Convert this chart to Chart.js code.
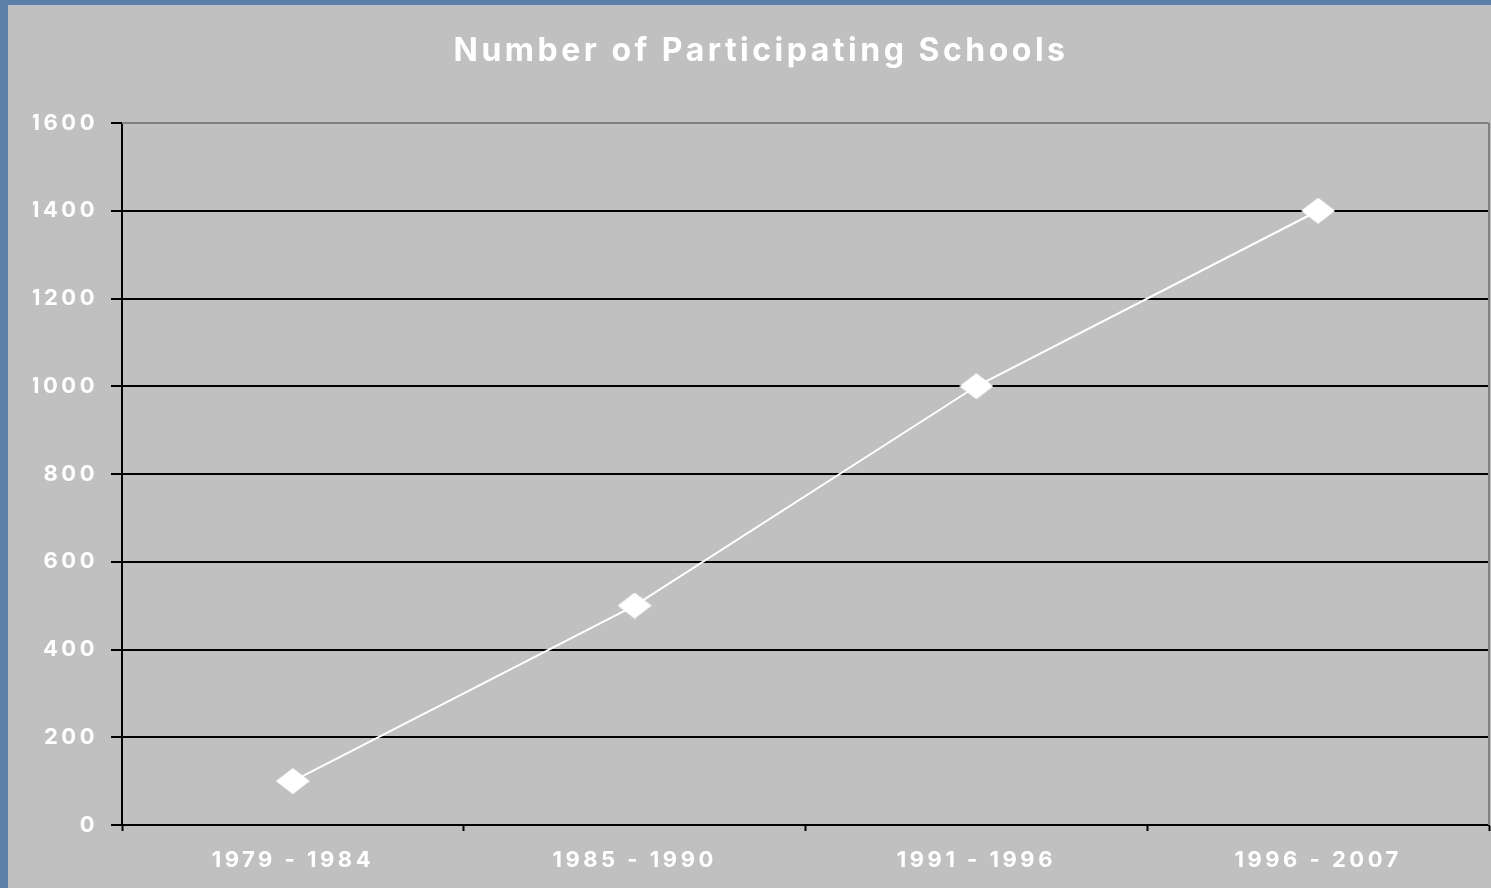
<!DOCTYPE html>
<html>
<head>
<meta charset="utf-8">
<script src="https://cdn.jsdelivr.net/npm/chart.js@4/dist/chart.umd.min.js"></script>
<style>
  html, body { margin: 0; padding: 0; width: 1491px; height: 888px; overflow: hidden;
    background: #5b7fa8; }
  #wrap { position: absolute; left: 8px; top: 5px; width: 1511px; height: 883px; background: #c0c0c0; }
  canvas { display: block; }
</style>
</head>
<body>
<div id="wrap"><canvas id="c" width="1511" height="883"></canvas></div>
<script>
// ---- data ----
const categories = ['1979 - 1984', '1985 - 1990', '1991 - 1996', '1996 - 2007'];
const schools = [100, 500, 1000, 1400];
const yMin = 0;
const yMax = 1600;
const yStep = 200;
const chartTitle = 'Number of Participating Schools';

// diamond marker (slightly wider than tall, as in the reference)
function makeDiamond(w, h) {
  const c = document.createElement('canvas');
  c.width = w; c.height = h;
  const g = c.getContext('2d');
  g.fillStyle = '#ffffff';
  g.beginPath();
  g.moveTo(0, h / 2);
  g.lineTo(w / 2, 0);
  g.lineTo(w, h / 2);
  g.lineTo(w / 2, h);
  g.closePath();
  g.fill();
  return c;
}
const diamond = makeDiamond(34, 26);

const SPACING = '3.5px';
const spacingPlugin = {
  id: 'spacing',
  beforeUpdate(chart) { chart.ctx.letterSpacing = SPACING; },
  beforeDraw(chart) { chart.ctx.letterSpacing = SPACING; },
  afterDraw(chart) {
    const { ctx, chartArea: a } = chart;
    ctx.save();
    ctx.strokeStyle = '#808080';
    ctx.lineWidth = 2;
    ctx.beginPath();
    ctx.moveTo(a.left, a.top);
    ctx.lineTo(a.right, a.top);
    ctx.moveTo(a.right, a.top);
    ctx.lineTo(a.right, a.bottom);
    ctx.stroke();
    ctx.restore();
  }
};

const font = 'Inter, "Liberation Sans", Arial, sans-serif';

new Chart(document.getElementById('c'), {
  type: 'line',
  data: {
    labels: categories,
    datasets: [{
      data: schools,
      borderColor: '#ffffff',
      borderWidth: 2,
      pointStyle: diamond,
      pointRadius: 13,
      tension: 0,
      fill: false
    }]
  },
  options: {
    responsive: false,
    maintainAspectRatio: false,
    animation: false,
    events: [],
    layout: { padding: { left: 25, right: 30, top: 0, bottom: 0 } },
    plugins: {
      legend: { display: false },
      tooltip: { enabled: false },
      title: {
        display: true,
        text: chartTitle,
        color: '#ffffff',
        font: { family: font, size: 32, weight: 'bold' },
        padding: { top: 27, bottom: 52.6 }
      }
    },
    scales: {
      x: {
        offset: true,
        grid: {
          offset: true,
          drawOnChartArea: false,
          drawTicks: true,
          tickLength: 6,
          tickColor: '#000000',
          tickWidth: 2
        },
        border: { display: true, color: '#000000', width: 2 },
        ticks: {
          color: '#ffffff',
          font: { family: font, size: 22, weight: 'bold' },
          padding: 16,
          maxRotation: 0
        },
        afterFit(scale) { scale.height = 63; }
      },
      y: {
        min: yMin,
        max: yMax,
        grid: {
          color: (ctx) => (ctx.tick && ctx.tick.value === yMax ? '#808080' : '#000000'),
          lineWidth: 2,
          tickLength: 11,
          tickColor: '#000000',
          tickWidth: 2
        },
        border: { display: true, color: '#000000', width: 2 },
        ticks: {
          stepSize: yStep,
          color: '#ffffff',
          font: { family: font, size: 22, weight: 'bold' },
          padding: 13,
          callback: (v) => String(v)
        },
        afterFit(scale) { scale.width = 89; }
      }
    }
  },
  plugins: [spacingPlugin]
});
</script>
</body>
</html>
